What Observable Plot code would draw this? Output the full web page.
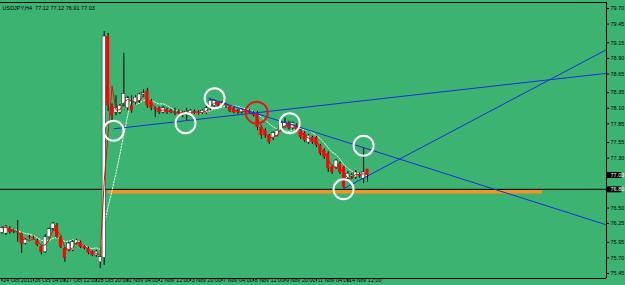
<!DOCTYPE html>
<html><head><meta charset="utf-8">
<script src="https://cdn.jsdelivr.net/npm/d3@7"></script>
<script src="https://cdn.jsdelivr.net/npm/@observablehq/plot@0.6"></script>
<style>html,body{margin:0;padding:0;background:#3cb371;overflow:hidden}</style>
</head><body><div id="chart"></div>
<script>
const symbol = "USDJPY,H4";
const opens = [76.10,76.09,76.17,76.12,76.12,76.09,75.93,76.04,76.03,75.98,75.88,75.79,76.03,76.17,76.22,76.03,75.85,75.82,75.82,75.93,75.95,75.88,75.85,75.79,75.74,75.63,
75.70,79.25,78.14,78.03,78.03,78.17,78.10,78.14,78.19,78.22,78.32,78.38,78.22,78.10,78.10,78.03,78.08,78.06,78.03,78.05,78.03,78.01,77.98,78.05,78.04,78.02,78.02,78.11,78.14,78.19,78.14,78.16,78.12,78.10,78.06,78.03,78.07,78.06,78.03,78.02,77.79,77.74,77.66,77.62,77.66,77.74,77.80,77.86,77.78,77.82,77.74,77.70,77.55,77.63,77.63,77.50,77.42,77.37,77.15,77.15,77.21,77.15,76.97,77.00,76.99,77.03,76.97,77.12];
const highs = [76.20,76.22,76.20,76.16,76.30,76.10,76.01,76.06,76.05,76.00,75.90,76.07,76.18,76.27,76.25,76.05,75.87,75.95,75.98,76.00,75.97,75.90,75.87,75.81,75.82,75.73,
79.33,79.30,78.17,78.30,78.16,78.98,78.29,78.30,78.30,78.34,78.40,78.42,78.24,78.12,78.12,78.13,78.10,78.08,78.10,78.07,78.05,78.10,78.08,78.07,78.06,78.08,78.13,78.25,78.24,78.21,78.21,78.18,78.14,78.12,78.08,78.10,78.09,78.08,78.05,78.05,77.82,77.77,77.68,77.72,77.76,77.88,77.94,77.89,77.88,77.85,77.76,77.72,77.68,77.65,77.65,77.52,77.45,77.40,77.18,77.28,77.24,77.17,77.08,77.05,77.10,77.06,77.47,77.12];
const lows = [76.08,76.06,76.08,76.09,75.95,75.77,75.91,76.00,75.99,75.88,75.75,75.77,76.00,76.13,76.01,75.85,75.63,75.80,75.80,75.91,75.85,75.83,75.75,75.72,75.71,75.53,
75.58,78.05,77.90,77.98,78.00,78.12,78.06,78.02,78.15,78.18,78.28,78.10,78.06,77.95,78.00,78.01,78.00,78.01,77.98,78.00,77.95,77.90,77.96,78.00,77.99,78.00,78.00,78.06,78.12,78.12,78.12,78.10,78.03,78.01,78.00,78.01,78.03,78.00,77.96,77.74,77.60,77.62,77.52,77.58,77.64,77.72,77.78,77.75,77.75,77.72,77.60,77.55,77.52,77.52,77.47,77.34,77.28,77.07,77.04,77.12,77.04,76.81,76.94,76.96,76.96,76.98,76.89,76.91];
const closes = [76.18,76.20,76.11,76.13,76.10,75.92,75.99,76.02,76.01,75.90,75.79,76.03,76.16,76.25,76.03,75.87,75.69,75.93,75.95,75.98,75.87,75.85,75.78,75.74,75.80,75.71,
79.25,78.14,77.98,78.10,78.14,78.33,78.26,78.06,78.27,78.32,78.34,78.14,78.10,78.08,78.03,78.10,78.03,78.03,78.02,78.02,77.98,78.04,78.06,78.02,78.01,78.06,78.10,78.22,78.22,78.14,78.19,78.15,78.05,78.03,78.03,78.08,78.06,78.02,77.98,77.79,77.66,77.66,77.55,77.70,77.74,77.86,77.87,77.78,77.86,77.74,77.63,77.58,77.66,77.55,77.50,77.37,77.31,77.13,77.07,77.26,77.07,76.83,77.05,77.02,77.07,77.01,77.07,77.03];

const xTickBars = [0,8,16,24,32,40,48,56,64,72,80,88];
const xTickLabels = ["24 Oct 2011","26 Oct 04:00","27 Oct 12:00","28 Oct 20:00","1 Nov 04:00","2 Nov 12:00","3 Nov 20:00","7 Nov 04:00","8 Nov 12:00","9 Nov 20:00","11 Nov 04:00","14 Nov 12:00"];
const yTicks = [79.70,79.45,79.15,78.90,78.65,78.35,78.10,77.85,77.55,77.30,76.50,76.25,75.95,75.70,75.45];

const bidPrice = [77.03];
const levelPrice = [76.80];
const supportPrice = [76.76];
const supportFromBar = [27];
const supportToBar = [137.5];

const trendFromBar = [28.4, 52.5, 86.9];
const trendFromPrice = [77.77, 78.26, 76.81];
const trendToBar = [153.8, 153.8, 153.8];
const trendToPrice = [78.66, 76.23, 79.04];

const circleBars = [28.4, 46.7, 54.1, 64.8, 73.2, 92.0, 86.9];
const circlePrices = [77.74, 77.86, 78.26, 78.03, 77.86, 77.50, 76.80];
const circleKinds = ["touch","touch","touch","break","touch","touch","touch"];

// scales
const X0 = -0.38, X1 = 153.8;
const Y_MIN = 75.37, Y_MAX = 79.796;

const bars = closes.map((c, i) => ({i, o: opens[i], h: highs[i], l: lows[i], c}));
const ups = bars.filter(d => d.c >= d.o);
const downs = bars.filter(d => d.c < d.o);
const trends = trendFromBar.map((b, k) => ({x1: b, y1: trendFromPrice[k], x2: trendToBar[k], y2: trendToPrice[k]}));
const supports = supportPrice.map((p, k) => ({p, from: supportFromBar[k], to: supportToBar[k]}));
const circles = circleBars.map((b, k) => ({b, p: circlePrices[k], kind: circleKinds[k]}));
const last = bars[bars.length - 1];
const header = `${symbol}  ${last.o.toFixed(2)} ${last.h.toFixed(2)} ${last.l.toFixed(2)} ${last.c.toFixed(2)}`;
const xLabels = xTickBars.map((b, k) => ({b, t: xTickLabels[k]}));
const markers = [...bidPrice, ...levelPrice];

const chart = Plot.plot({
  width: 625, height: 285,
  marginLeft: 0, marginRight: 19, marginTop: 2, marginBottom: 7,
  x: {domain: [X0, X1], axis: null},
  y: {domain: [Y_MIN, Y_MAX], axis: null},
  style: {background: "#3cb371", fontFamily: "'Liberation Sans', Arial, sans-serif", fontSize: "5.5px", overflow: "visible"},
  marks: [
    Plot.ruleY(levelPrice, {stroke: "black", strokeWidth: 1}),
    Plot.ruleY(supports, {y: "p", x1: "from", x2: "to", stroke: "#f7941d", strokeWidth: 3.5}),
    Plot.lineY(bars, Plot.windowY({k: 8, anchor: "end"}, {x: "i", y: "c", stroke: "#e8ffe8", strokeWidth: 1, strokeDasharray: "1.5,1.5"})),
    Plot.ruleX(bars, {x: "i", y1: "l", y2: "h", stroke: "black", strokeWidth: 1}),
    Plot.rect(ups, {x1: d => d.i - 0.4, x2: d => d.i + 0.4, y1: "o", y2: "c", fill: "white", stroke: "black", strokeWidth: 0.4}),
    Plot.rect(downs, {x1: d => d.i - 0.4, x2: d => d.i + 0.4, y1: "o", y2: "c", fill: "#ff0000"}),
    Plot.lineY(bars, Plot.windowY({k: 3, anchor: "end"}, {x: "i", y: "c", stroke: "#e01010", strokeWidth: 1})),
    Plot.link(trends, {x1: "x1", y1: "y1", x2: "x2", y2: "y2", stroke: "#1a2ee0", strokeWidth: 1}),
    Plot.dot(circles.filter(d => d.kind === "touch"), {x: "b", y: "p", r: 10, stroke: "white", strokeWidth: 2, fill: "none"}),
    Plot.dot(circles.filter(d => d.kind === "break"), {x: "b", y: "p", r: 11, stroke: "#ee1111", strokeWidth: 2, fill: "none"}),
    // frame
    Plot.ruleX([X1], {stroke: "black"}),
    Plot.ruleY([Y_MIN], {stroke: "black"}),
    Plot.ruleY([Y_MAX], {stroke: "black"}),
    // y axis
    Plot.ruleY(yTicks, {x1: X1, x2: X1 + 0.8, stroke: "black"}),
    Plot.text(yTicks, {y: d => d, x: X1, text: d => d.toFixed(2), textAnchor: "start", dx: 4, fill: "black", ariaLabel: "ylab"}),
    Plot.ruleY(markers, {x1: X1 + 0.15, x2: X1 + 3.9, stroke: "black", strokeWidth: 6}),
    Plot.text(markers, {y: d => d, x: X1, text: d => d.toFixed(2), textAnchor: "start", dx: 4, fill: "white", ariaLabel: "ylab"}),
    // x axis
    Plot.ruleX(xTickBars, {x: d => d, y1: Y_MIN, y2: Y_MIN - 0.05, stroke: "black"}),
    Plot.text(xLabels, {x: "b", frameAnchor: "bottom", text: "t", textAnchor: "start", dx: 1, dy: 3.6, fill: "black", ariaLabel: "xlab"}),
    // header
    Plot.text([header], {frameAnchor: "top-left", text: d => d, textAnchor: "start", dx: 2, dy: 4, fill: "black", ariaLabel: "head"})
  ]
});
document.getElementById("chart").appendChild(chart);
const squeeze = {xlab: 0.7, ylab: 0.8, head: 0.88};
for (const [k, f] of Object.entries(squeeze)) {
  chart.querySelectorAll(`g[aria-label="${k}"] text`).forEach(t => {
    const w = t.getComputedTextLength();
    if (w > 0) { t.setAttribute("textLength", (w * f).toFixed(2)); t.setAttribute("lengthAdjust", "spacingAndGlyphs"); }
  });
}
</script>
</body></html>
